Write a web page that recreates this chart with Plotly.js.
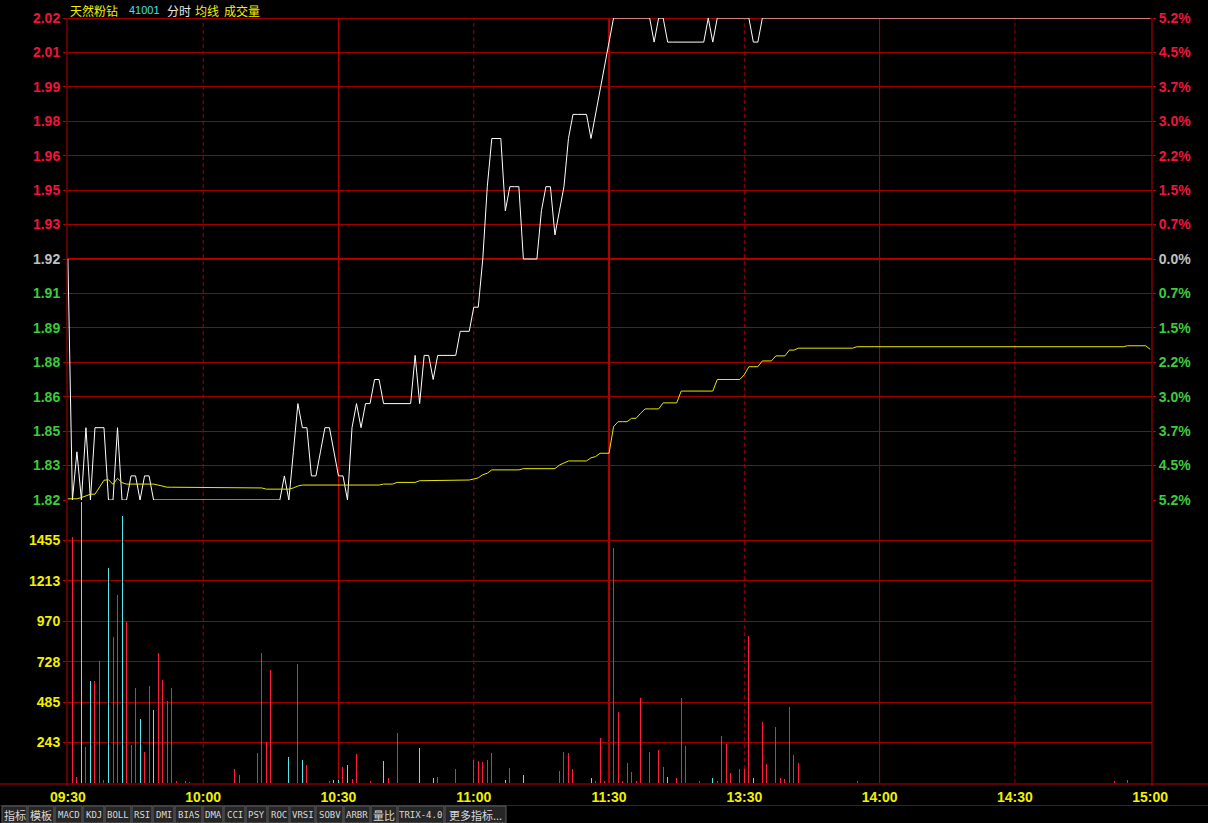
<!DOCTYPE html>
<html>
<head>
<meta charset="utf-8">
<script src="https://cdn.plot.ly/plotly-3.0.1.min.js"></script>
<style>
html,body{margin:0;padding:0;background:#000;}
#chart{width:1208px;height:823px;}
</style>
</head>
<body>
<div id="chart"></div>
<script>
// ---------------- DATA ----------------
const stockName = '天然粉钻';
const stockCode = '41001';
const preClose = 1.92;

// minute index 0..240 (09:30 .. 11:30 / 13:00 .. 15:00)
const timeTickIdx = [0, 30, 60, 90, 120, 150, 180, 210, 240];
const timeTickText = ['09:30', '10:00', '10:30', '11:00', '11:30', '13:30', '14:00', '14:30', '15:00'];

const priceTicks = [2.02, 2.00571, 1.99143, 1.97714, 1.96286, 1.94857, 1.93429, 1.92, 1.90571, 1.89143, 1.87714, 1.86286, 1.84857, 1.83429, 1.82];
const priceTickText = ['2.02', '2.01', '1.99', '1.98', '1.96', '1.95', '1.93', '1.92', '1.91', '1.89', '1.88', '1.86', '1.85', '1.83', '1.82'];
const pctTickText = ['5.2%', '4.5%', '3.7%', '3.0%', '2.2%', '1.5%', '0.7%', '0.0%', '0.7%', '1.5%', '2.2%', '3.0%', '3.7%', '4.5%', '5.2%'];

const volTicks = [242.6, 485.1, 727.7, 970.3, 1212.9, 1455.4];
const volTickText = ['243', '485', '728', '970', '1213', '1455'];
const volMax = 1698;

const price = [
1.92,1.82,1.84,1.82,1.85,1.82,1.85,1.85,1.85,1.82,
1.82,1.85,1.82,1.82,1.83,1.83,1.82,1.83,1.83,1.82,
1.82,1.82,1.82,1.82,1.82,1.82,1.82,1.82,1.82,1.82,
1.82,1.82,1.82,1.82,1.82,1.82,1.82,1.82,1.82,1.82,
1.82,1.82,1.82,1.82,1.82,1.82,1.82,1.82,1.83,1.82,
1.84,1.86,1.85,1.85,1.83,1.83,1.84,1.85,1.85,1.84,
1.83,1.83,1.82,1.85,1.86,1.85,1.86,1.86,1.87,1.87,
1.86,1.86,1.86,1.86,1.86,1.86,1.86,1.88,1.86,1.88,
1.88,1.87,1.88,1.88,1.88,1.88,1.88,1.89,1.89,1.89,
1.90,1.90,1.92,1.95,1.97,1.97,1.97,1.94,1.95,1.95,
1.95,1.92,1.92,1.92,1.92,1.94,1.95,1.95,1.93,1.94,
1.95,1.97,1.98,1.98,1.98,1.98,1.97,1.98,1.99,2.00,
2.01,2.02,2.02,2.02,2.02,2.02,2.02,2.02,2.02,2.02,
2.01,2.02,2.02,2.01,2.01,2.01,2.01,2.01,2.01,2.01,
2.01,2.01,2.02,2.01,2.02,2.02,2.02,2.02,2.02,2.02,
2.02,2.02,2.01,2.01,2.02,2.02,2.02,2.02,2.02,2.02,
2.02,2.02,2.02,2.02,2.02,2.02,2.02,2.02,2.02,2.02,
2.02,2.02,2.02,2.02,2.02,2.02,2.02,2.02,2.02,2.02,
2.02,2.02,2.02,2.02,2.02,2.02,2.02,2.02,2.02,2.02,
2.02,2.02,2.02,2.02,2.02,2.02,2.02,2.02,2.02,2.02,
2.02,2.02,2.02,2.02,2.02,2.02,2.02,2.02,2.02,2.02,
2.02,2.02,2.02,2.02,2.02,2.02,2.02,2.02,2.02,2.02,
2.02,2.02,2.02,2.02,2.02,2.02,2.02,2.02,2.02,2.02,
2.02,2.02,2.02,2.02,2.02,2.02,2.02,2.02,2.02,2.02,
2.02
];

const avgPrice = [
1.8205,1.8205,1.8205,1.8210,1.8218,1.8224,1.8224,1.8255,1.8282,1.8284,
1.8265,1.8290,1.8272,1.8266,1.8266,1.8266,1.8266,1.8266,1.8266,1.8266,
1.8262,1.8258,1.8253,1.8253,1.8253,1.8253,1.8253,1.8253,1.8253,1.8253,
1.8253,1.8253,1.8253,1.8253,1.8253,1.8253,1.8253,1.8253,1.8253,1.8253,
1.8253,1.8253,1.8253,1.8250,1.8245,1.8245,1.8245,1.8245,1.8245,1.8245,
1.8250,1.8258,1.8262,1.8262,1.8262,1.8262,1.8262,1.8262,1.8262,1.8262,
1.8262,1.8262,1.8262,1.8262,1.8262,1.8262,1.8262,1.8262,1.8262,1.8262,
1.8266,1.8266,1.8266,1.8273,1.8273,1.8273,1.8273,1.8273,1.8280,1.8280,
1.8280,1.8280,1.8283,1.8283,1.8283,1.8283,1.8283,1.8283,1.8283,1.8283,
1.8287,1.8292,1.8305,1.8311,1.8325,1.8325,1.8325,1.8325,1.8325,1.8325,
1.8325,1.8330,1.8330,1.8330,1.8330,1.8330,1.8330,1.8330,1.8330,1.8345,
1.8355,1.8362,1.8362,1.8362,1.8362,1.8362,1.8375,1.8380,1.8394,1.8394,
1.8394,1.8504,1.8525,1.8525,1.8525,1.8539,1.8539,1.8560,1.8578,1.8578,
1.8578,1.8578,1.8603,1.8603,1.8603,1.8603,1.8652,1.8652,1.8652,1.8652,
1.8652,1.8652,1.8652,1.8652,1.8700,1.8700,1.8700,1.8700,1.8700,1.8700,
1.8720,1.8753,1.8753,1.8753,1.8777,1.8777,1.8777,1.8798,1.8798,1.8798,
1.8822,1.8822,1.8830,1.8830,1.8830,1.8830,1.8830,1.8830,1.8830,1.8830,
1.8830,1.8830,1.8830,1.8830,1.8830,1.8836,1.8836,1.8836,1.8836,1.8836,
1.8836,1.8836,1.8836,1.8836,1.8836,1.8836,1.8836,1.8836,1.8836,1.8836,
1.8836,1.8836,1.8836,1.8836,1.8836,1.8836,1.8836,1.8836,1.8836,1.8836,
1.8836,1.8836,1.8836,1.8836,1.8836,1.8836,1.8836,1.8836,1.8836,1.8836,
1.8836,1.8836,1.8836,1.8836,1.8836,1.8836,1.8836,1.8836,1.8836,1.8836,
1.8836,1.8836,1.8836,1.8836,1.8836,1.8836,1.8836,1.8836,1.8836,1.8836,
1.8836,1.8836,1.8836,1.8836,1.8836,1.8840,1.8840,1.8840,1.8840,1.8840,
1.8825
];

const volume = [
0,1479,38,1687,218,610,614,734,20,1292,
877,1126,1603,967,229,570,385,185,580,440,
781,620,495,570,15,0,12,8,0,0,
0,0,0,0,0,0,0,82,48,0,
0,0,182,781,249,676,0,0,0,158,
0,714,138,108,0,0,0,0,14,20,
20,98,108,24,175,0,0,12,0,0,
134,28,0,299,0,0,0,0,209,0,
0,32,34,0,0,0,82,0,0,0,
138,134,128,138,179,0,0,20,92,0,
0,48,0,0,0,0,0,0,0,74,
188,179,82,0,0,0,28,14,268,10,
0,1410,425,10,122,68,10,508,0,184,
0,199,98,38,0,32,508,223,0,0,
10,0,0,30,10,283,233,60,0,82,
82,885,30,0,369,113,0,339,30,24,
459,169,122,0,0,0,0,0,0,0,
0,0,0,0,0,15,0,0,0,0,
0,0,0,0,0,0,0,0,0,0,
0,0,0,0,0,0,0,0,0,0,
0,0,0,0,0,0,0,0,0,0,
0,0,0,0,0,0,0,0,0,0,
0,0,0,0,0,0,0,0,0,0,
0,0,15,0,0,20,0,0,0,0,
0
];
// minutes whose volume bar is drawn as a "down" (cyan) bar
const downMinutes = [3,5,9,12,16,19,49,52,59,60,62,70,78,81,97,101,116,133,143,152];

const tabLabels = ['指标','模板','MACD','KDJ','BOLL','RSI','DMI','BIAS','DMA','CCI','PSY','ROC','VRSI','SOBV','ARBR','量比','TRIX-4.0','更多指标...'];

// ---------------- STYLE / LAYOUT ----------------
const W = 1208, H = 823;
const PX = x => x / W;
const PY = y => 1 - y / H;
const RED_TXT = '#f0143c', GREEN_TXT = '#3ccc3c', GREY_TXT = '#c0c0c0', YEL = '#f0f000';
const GRID = '#a00000', VLINE = '#b80000';
const tabEdges = [2, 28, 55, 83, 105, 132, 153, 175, 203, 224, 246, 268, 290, 316, 344, 371, 398, 445, 507];
const X_RANGE = [-0.2, 240.4];
const ONE_PX = (X_RANGE[1] - X_RANGE[0]) / (1152 - 67);

const minutes = price.map((_, i) => i);
const upX = [], upY = [], dnX = [], dnY = [];
volume.forEach((v, i) => {
  if (!v) return;
  if (downMinutes.includes(i)) { dnX.push(i); dnY.push(v); } else { upX.push(i); upY.push(v); }
});

const colorFor = (v) => Math.abs(v - preClose) < 1e-6 ? GREY_TXT : (v > preClose ? RED_TXT : GREEN_TXT);
const priceTickHtml = priceTickText.map((t, k) => `<span style="color:${colorFor(priceTicks[k])}">${t}</span>`);
const pctTickHtml = pctTickText.map((t, k) => `<span style="color:${colorFor(priceTicks[k])}">${t}</span>`);

const traces = [
  { x: minutes, y: price, type: 'scatter', mode: 'lines', line: { color: '#ffffff', width: 1 }, xaxis: 'x', yaxis: 'y', hoverinfo: 'skip' },
  { x: minutes, y: avgPrice, type: 'scatter', mode: 'lines', line: { color: '#e8e800', width: 1 }, xaxis: 'x', yaxis: 'y', hoverinfo: 'skip' },
  { x: upX, y: upY, type: 'bar', width: ONE_PX, marker: { color: 'rgba(255,30,60,0.995)', line: { width: 0 } }, xaxis: 'x', yaxis: 'y2', hoverinfo: 'skip' },
  { x: dnX, y: dnY, type: 'bar', width: ONE_PX, marker: { color: 'rgba(84,232,232,0.995)', line: { width: 0 } }, xaxis: 'x', yaxis: 'y2', hoverinfo: 'skip' },
  { x: [0], y: [preClose], type: 'scatter', mode: 'markers', marker: { opacity: 0 }, xaxis: 'x', yaxis: 'y3', hoverinfo: 'skip', showlegend: false }
];

const tickFont = { family: 'Liberation Sans, Arial, sans-serif', size: 14, weight: 'bold' };

const shapes = [];
// vertical time lines
timeTickIdx.forEach((t, k) => {
  if (k === 0 || k === timeTickIdx.length - 1) return;
  const solid = (k % 2 === 0);
  shapes.push({ type: 'line', xref: 'x', yref: 'paper', x0: t, x1: t, y0: PY(783), y1: PY(18),
    line: { color: solid ? VLINE : GRID, width: (t === 120 ? 2 : 1), dash: solid ? 'solid' : '4px,3px' }, layer: 'below' });
});
// frame
shapes.push({ type: 'line', xref: 'paper', yref: 'paper', x0: PX(67), x1: PX(67), y0: PY(786), y1: PY(18), line: { color: VLINE, width: 1 } });
shapes.push({ type: 'line', xref: 'paper', yref: 'paper', x0: PX(1152), x1: PX(1152), y0: PY(786), y1: PY(18), line: { color: VLINE, width: 1 } });
shapes.push({ type: 'line', xref: 'paper', yref: 'paper', x0: PX(67), x1: PX(1152), y0: PY(18.5), y1: PY(18.5), line: { color: GRID, width: 1 }, layer: 'below' });
shapes.push({ type: 'line', xref: 'paper', yref: 'paper', x0: 0, x1: 1, y0: PY(784), y1: PY(784), line: { color: VLINE, width: 1 } });
shapes.push({ type: 'line', xref: 'paper', yref: 'y', x0: PX(67), x1: PX(1152), y0: preClose, y1: preClose, line: { color: VLINE, width: 2 }, layer: 'below' });
shapes.push({ type: 'line', xref: 'paper', yref: 'paper', x0: 0, x1: 1, y0: PY(805.5), y1: PY(805.5), line: { color: '#8a0000', width: 1 } });
// tabs
const annotations = [];
tabLabels.forEach((t, k) => {
  const x0 = tabEdges[k], x1 = tabEdges[k + 1] - 1;
  shapes.push({ type: 'rect', xref: 'paper', yref: 'paper', x0: PX(x0), x1: PX(x1), y0: PY(823), y1: PY(806),
    fillcolor: '#262626', line: { color: '#5c5c5c', width: 1 } });
  const cjk = /[\u4e00-\u9fff]/.test(t);
  annotations.push({ xref: 'paper', yref: 'paper', x: PX((x0 + x1) / 2), y: PY(814.5), text: t, showarrow: false,
    xanchor: 'center', yanchor: 'middle',
    font: { family: cjk ? 'Noto Sans CJK SC' : 'DejaVu Sans Mono, Liberation Mono, monospace', size: cjk ? 11 : 9, color: '#d8d8d8' } });
});
// header
const header = [
  { t: stockName, x: 68, c: '#f0f000', f: 'Noto Sans CJK SC', s: 12 },
  { t: stockCode, x: 127, c: '#40e0e0', f: 'Liberation Sans', s: 11 },
  { t: '分时', x: 165, c: '#e8e8e8', f: 'Noto Sans CJK SC', s: 12 },
  { t: '均线', x: 193, c: '#f0f000', f: 'Noto Sans CJK SC', s: 12 },
  { t: '成交量', x: 222, c: '#f0f000', f: 'Noto Sans CJK SC', s: 12 }
];
header.forEach(h => annotations.push({ xref: 'paper', yref: 'paper', x: PX(h.x), y: PY(10), text: h.t, showarrow: false,
  xanchor: 'left', yanchor: 'middle', font: { family: h.f, size: h.s, color: h.c } }));

const layout = {
  width: W, height: H,
  margin: { l: 0, r: 0, t: 0, b: 0 },
  paper_bgcolor: '#000000', plot_bgcolor: 'rgba(0,0,0,0)',
  showlegend: false, bargap: 0, bargroupgap: 0, barmode: 'overlay', hovermode: false, dragmode: false,
  xaxis: {
    domain: [PX(67), PX(1152)], range: X_RANGE, anchor: 'y2',
    tickvals: timeTickIdx, ticktext: timeTickText, showgrid: false, zeroline: false, showline: false,
    ticks: '', tickfont: Object.assign({}, tickFont, { color: YEL }), ticklabelstandoff: 4, fixedrange: true
  },
  yaxis: {
    domain: [PY(500), PY(18)], range: [1.82, 2.02], anchor: 'x', fixedrange: true,
    tickvals: priceTicks, ticktext: priceTickHtml, tickfont: tickFont,
    showgrid: true, gridcolor: GRID, gridwidth: 1, zeroline: false, showline: false,
    ticks: 'outside', ticklen: 3, tickcolor: VLINE, ticklabelstandoff: 0
  },
  yaxis2: {
    domain: [PY(783), PY(500)], range: [0, volMax], anchor: 'x', fixedrange: true,
    tickvals: volTicks, ticktext: volTickText, tickfont: Object.assign({}, tickFont, { color: YEL }),
    showgrid: true, gridcolor: GRID, gridwidth: 1, zeroline: false, showline: false,
    ticks: 'outside', ticklen: 3, tickcolor: VLINE, ticklabelstandoff: 0
  },
  yaxis3: {
    overlaying: 'y', side: 'right', anchor: 'x', range: [1.82, 2.02], fixedrange: true,
    tickvals: priceTicks, ticktext: pctTickHtml, tickfont: tickFont,
    showgrid: false, zeroline: false, showline: false,
    ticks: 'outside', ticklen: 3, tickcolor: VLINE, ticklabelstandoff: 0
  },
  shapes: shapes,
  annotations: annotations
};

Plotly.newPlot('chart', traces, layout, { displayModeBar: false, responsive: false });
</script>
</body>
</html>
